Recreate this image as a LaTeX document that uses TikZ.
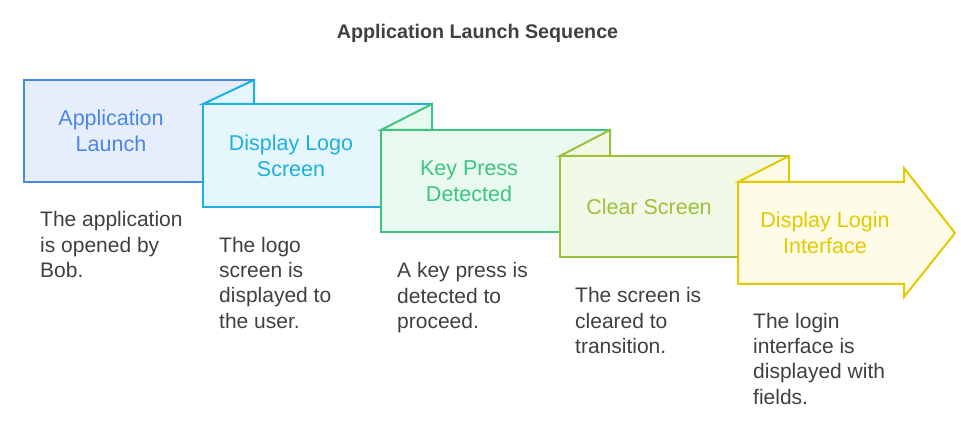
\documentclass[tikz,border=0pt]{standalone}
\usepackage{fontspec}
\setmainfont{Liberation Sans}
\definecolor{cA}{HTML}{4A86E8}\definecolor{fA}{HTML}{E6EEFC}
\definecolor{cB}{HTML}{1CB0E2}\definecolor{fB}{HTML}{E5F7FD}
\definecolor{cC}{HTML}{3DC580}\definecolor{fC}{HTML}{E8FAF0}
\definecolor{cD}{HTML}{9BC23A}\definecolor{fD}{HTML}{F3F9E7}
\definecolor{cE}{HTML}{E5C900}\definecolor{fE}{HTML}{FEFCE6}
\definecolor{txt}{HTML}{404040}
\tikzset{
  shp/.style={line width=2pt, line join=miter},
  lbl/.style={font=\fontsize{21.5}{25.5}\selectfont, align=center, inner sep=0pt},
  desc/.style={font=\fontsize{21}{25.2}\selectfont, align=left, inner sep=0pt, anchor=north west, text=txt},
}
\begin{document}
\begin{tikzpicture}[x=1pt,y=-1pt]
\useasboundingbox (0,0) rectangle (961,438);
\fill[white] (0,0) rectangle (961,438);
\node[font=\fontsize{19.7}{24}\selectfont\bfseries, text=txt, anchor=base, inner sep=0pt] (title) at (477.5,39) {Application Launch Sequence};
% box 1
\draw[shp, draw=cA, fill=fA] (24,80) rectangle (254,182);
% box 2
\draw[shp, draw=cB, fill=fB] (203,104) -- (254,80) -- (254,104) -- cycle;
\draw[shp, draw=cB, fill=fB] (203,104) rectangle (432,207);
% box 3
\draw[shp, draw=cC, fill=fC] (381,130) -- (432,104) -- (432,130) -- cycle;
\draw[shp, draw=cC, fill=fC] (381,130) rectangle (610,232);
% box 4
\draw[shp, draw=cD, fill=fD] (560,156) -- (610,130) -- (610,156) -- cycle;
\draw[shp, draw=cD, fill=fD] (560,156) rectangle (789,257);
% box 5 arrow
\draw[shp, draw=cE, fill=fE] (738,182) -- (789,156) -- (789,182) -- cycle;
\draw[shp, draw=cE, fill=fE] (738,182) -- (904,182) -- (904,168) -- (955,233) -- (904,297) -- (904,284) -- (738,284) -- cycle;
% labels
\node[lbl, text=cA] (l1) at (111,131) {Application\\Launch};
\node[lbl, text=cB] (l2) at (291,156) {Display Logo\\Screen};
\node[lbl, text=cC] (l3) at (469,181) {Key Press\\Detected};
\node[lbl, text=cD] (l4) at (649,207) {Clear Screen};
\node[lbl, text=cE] (l5) at (825,233) {Display Login\\Interface};
% descriptions
\node[desc] (d1) at (40,211.5) {The application\\is opened by\\Bob.};
\node[desc] (d2) at (219,237) {The logo\\screen is\\displayed to\\the user.};
\node[desc] (d3) at (397,262.5) {A key press is\\detected to\\proceed.};
\node[desc] (d4) at (575,287.5) {The screen is\\cleared to\\transition.};
\node[desc] (d5) at (753,313) {The login\\interface is\\displayed with\\fields.};
\end{tikzpicture}
\end{document}
